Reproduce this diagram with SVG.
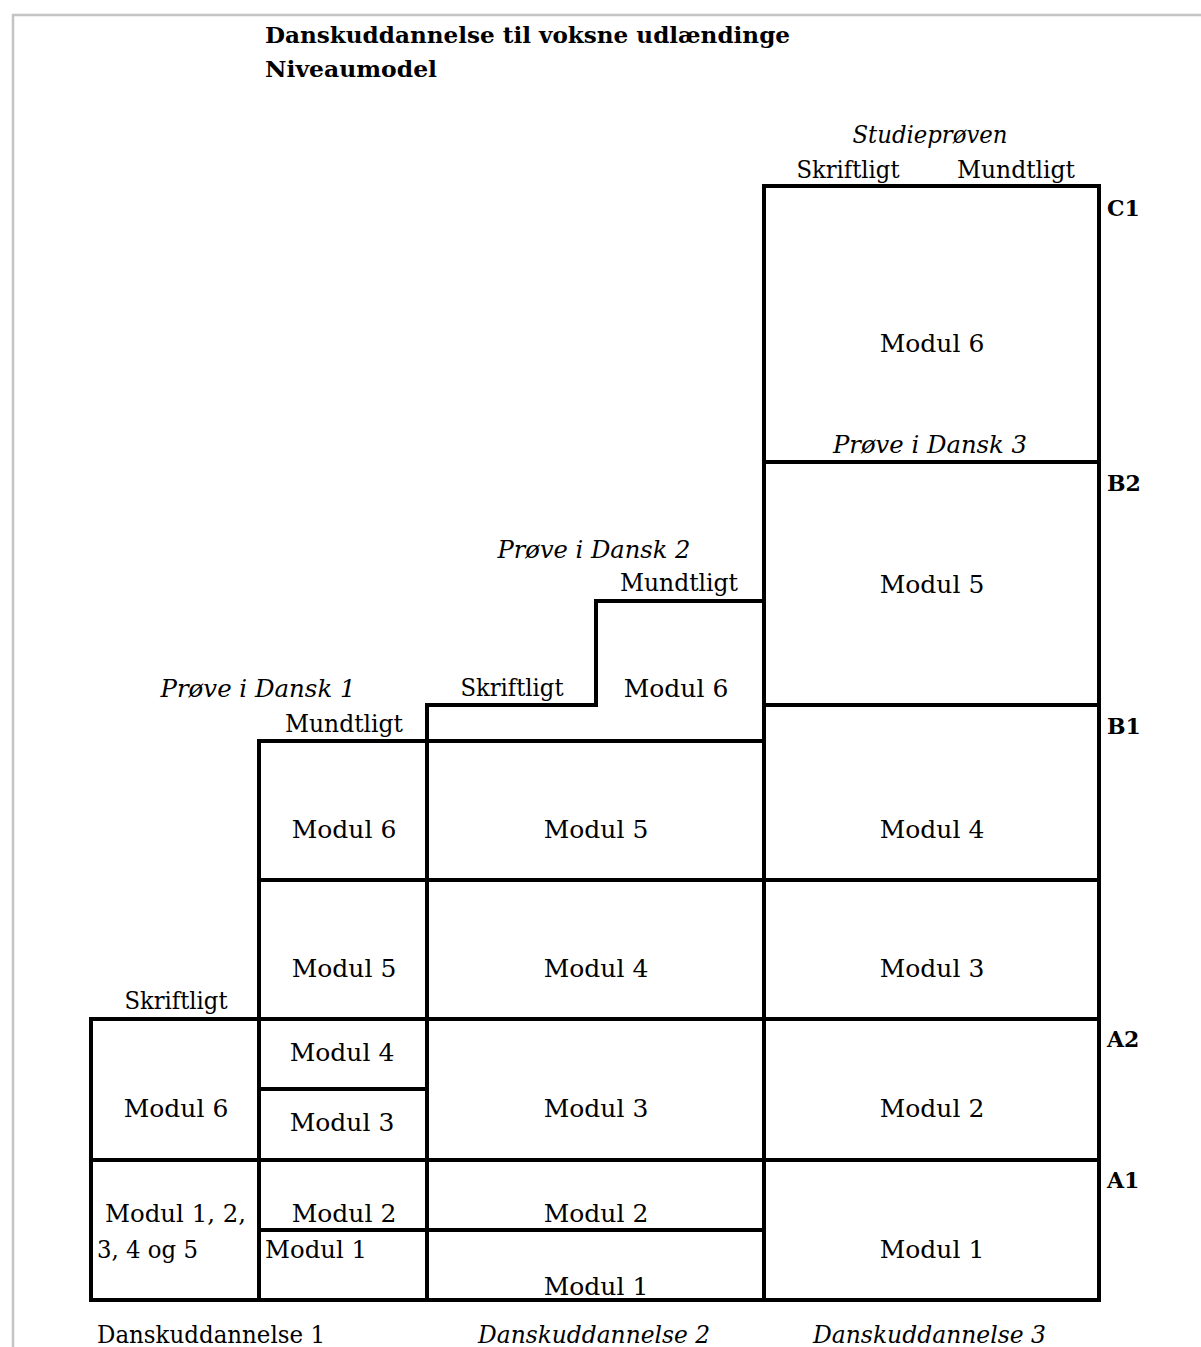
<svg xmlns="http://www.w3.org/2000/svg" width="1201" height="1347" viewBox="0 0 1201 1347">
<style>
.cell{fill:#fff;stroke:#000;stroke-width:4;stroke-linejoin:miter}
text{font-family:"DejaVu Serif","Liberation Serif",serif;font-size:25px;fill:#000}
.c{text-anchor:middle}
.i{font-style:italic}
.b{font-weight:bold}
.t{font-weight:bold;font-size:23px}
.lv{font-weight:bold;font-size:22px}
</style>
<rect width="1201" height="1347" fill="#fff"/>
<path d="M13 1347 V15 H1201" fill="none" stroke="#c4c4c4" stroke-width="2.5"/>
<g id="title">
<text class="t" x="265" y="43" textLength="525" lengthAdjust="spacingAndGlyphs">Danskuddannelse til voksne udlændinge</text>
<text class="t" x="265" y="77" textLength="172" lengthAdjust="spacingAndGlyphs">Niveaumodel</text>
</g>
<g id="connectors"></g>
<!-- Danskuddannelse 1 -->
<g id="du1-m12345"><rect class="cell" x="91" y="1160" width="168" height="140"/>
<text x="105" y="1222" textLength="141" lengthAdjust="spacingAndGlyphs">Modul 1, 2,</text>
<text x="97" y="1258" textLength="101" lengthAdjust="spacingAndGlyphs">3, 4 og 5</text></g>
<g id="du1-m6"><rect class="cell" x="91" y="1019" width="168" height="141"/>
<text class="c" x="176" y="1117">Modul 6</text>
<text class="c" x="176" y="1009" textLength="103" lengthAdjust="spacingAndGlyphs">Skriftligt</text></g>
<g id="du1-m1"><rect class="cell" x="259" y="1230" width="168" height="70"/>
<text x="265" y="1258" textLength="102" lengthAdjust="spacingAndGlyphs">Modul 1</text></g>
<g id="du1-m2"><rect class="cell" x="259" y="1160" width="168" height="70"/>
<text class="c" x="344" y="1222">Modul 2</text></g>
<g id="du1-m3"><rect class="cell" x="259" y="1089" width="168" height="71"/>
<text class="c" x="342" y="1131">Modul 3</text></g>
<g id="du1-m4"><rect class="cell" x="259" y="1019" width="168" height="70"/>
<text class="c" x="342" y="1061">Modul 4</text></g>
<g id="du1-m5"><rect class="cell" x="259" y="880" width="168" height="139"/>
<text class="c" x="344" y="977">Modul 5</text></g>
<g id="du1-m6b"><rect class="cell" x="259" y="741" width="168" height="139"/>
<text class="c" x="344" y="838">Modul 6</text>
<text class="c" x="344" y="732" textLength="118" lengthAdjust="spacingAndGlyphs">Mundtligt</text>
<text class="c i" x="258" y="697" textLength="195" lengthAdjust="spacingAndGlyphs">Prøve i Dansk 1</text></g>
<!-- Danskuddannelse 2 -->
<g id="du2-m1"><rect class="cell" x="427" y="1230" width="337" height="70"/>
<text class="c" x="596" y="1295">Modul 1</text></g>
<g id="du2-m2"><rect class="cell" x="427" y="1160" width="337" height="70"/>
<text class="c" x="596" y="1222">Modul 2</text></g>
<g id="du2-m3"><rect class="cell" x="427" y="1019" width="337" height="141"/>
<text class="c" x="596" y="1117">Modul 3</text></g>
<g id="du2-m4"><rect class="cell" x="427" y="880" width="337" height="139"/>
<text class="c" x="596" y="977">Modul 4</text></g>
<g id="du2-m5"><rect class="cell" x="427" y="741" width="337" height="139"/>
<text class="c" x="596" y="838">Modul 5</text></g>
<g id="du2-m6"><polygon class="cell" points="427,741 427,705 596,705 596,601 764,601 764,741"/>
<text class="c" x="676" y="697">Modul 6</text>
<text class="c" x="512" y="696" textLength="103" lengthAdjust="spacingAndGlyphs">Skriftligt</text>
<text class="c" x="679" y="591" textLength="118" lengthAdjust="spacingAndGlyphs">Mundtligt</text>
<text class="c i" x="594" y="558" textLength="193" lengthAdjust="spacingAndGlyphs">Prøve i Dansk 2</text></g>
<!-- Danskuddannelse 3 -->
<g id="du3-m1"><rect class="cell" x="764" y="1160" width="335" height="140"/>
<text class="c" x="932" y="1258">Modul 1</text></g>
<g id="du3-m2"><rect class="cell" x="764" y="1019" width="335" height="141"/>
<text class="c" x="932" y="1117">Modul 2</text></g>
<g id="du3-m3"><rect class="cell" x="764" y="880" width="335" height="139"/>
<text class="c" x="932" y="977">Modul 3</text></g>
<g id="du3-m4"><rect class="cell" x="764" y="705" width="335" height="175"/>
<text class="c" x="932" y="838">Modul 4</text></g>
<g id="du3-m5"><rect class="cell" x="764" y="462" width="335" height="243"/>
<text class="c" x="932" y="593">Modul 5</text></g>
<g id="du3-m6"><rect class="cell" x="764" y="186" width="335" height="276"/>
<text class="c" x="932" y="352">Modul 6</text>
<text class="c i" x="930" y="453" textLength="194" lengthAdjust="spacingAndGlyphs">Prøve i Dansk 3</text>
<text class="c" x="848" y="178" textLength="103" lengthAdjust="spacingAndGlyphs">Skriftligt</text>
<text class="c" x="1016" y="178" textLength="118" lengthAdjust="spacingAndGlyphs">Mundtligt</text>
<text class="c i" x="930" y="143" textLength="155" lengthAdjust="spacingAndGlyphs">Studieprøven</text></g>
<g id="levels">
<text class="lv" x="1107" y="216">C1</text>
<text class="lv" x="1107" y="491">B2</text>
<text class="lv" x="1107" y="734">B1</text>
<text class="lv" x="1107" y="1047">A2</text>
<text class="lv" x="1107" y="1188">A1</text>
</g>
<g id="courses">
<text x="97" y="1343" textLength="228" lengthAdjust="spacingAndGlyphs">Danskuddannelse 1</text>
<text class="i" x="478" y="1343" textLength="232" lengthAdjust="spacingAndGlyphs">Danskuddannelse 2</text>
<text class="i" x="813" y="1343" textLength="233" lengthAdjust="spacingAndGlyphs">Danskuddannelse 3</text>
</g>
</svg>
